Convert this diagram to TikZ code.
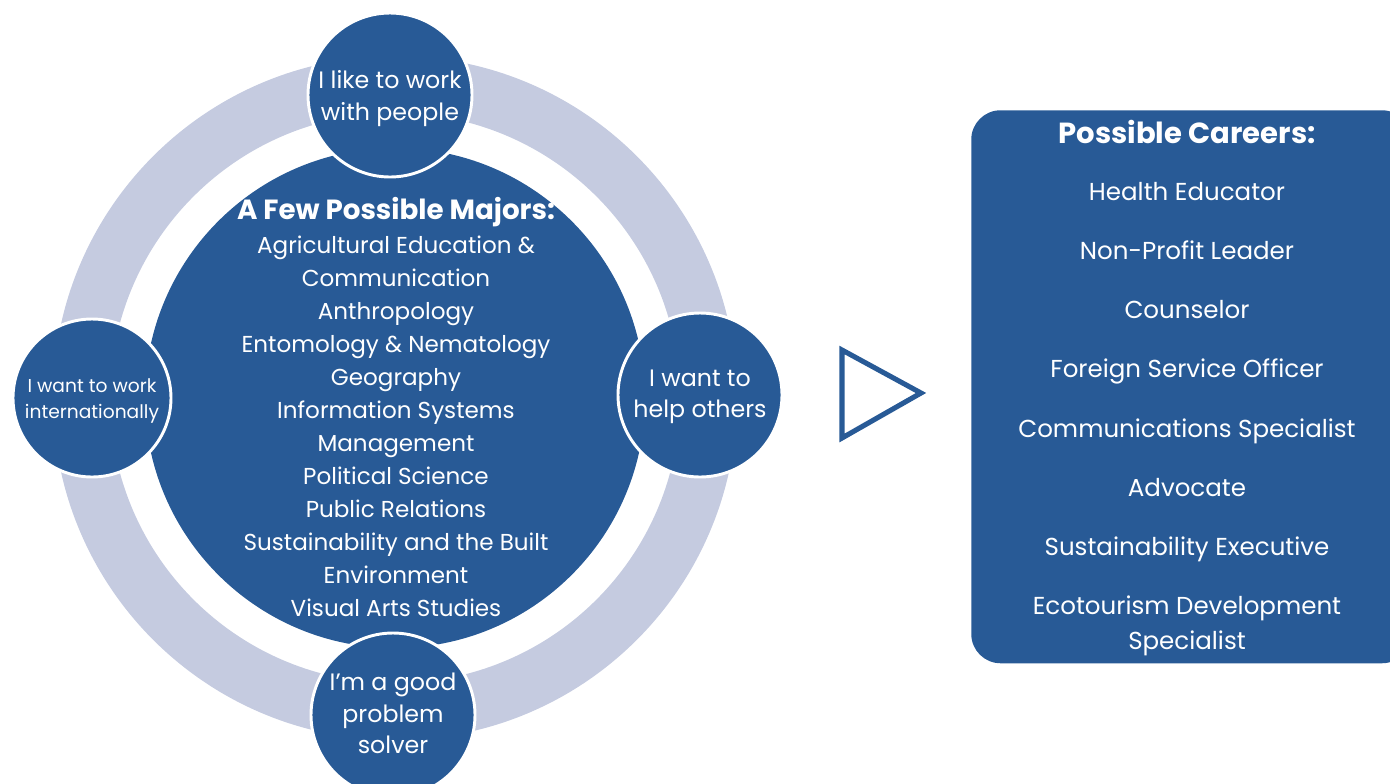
\documentclass[tikz,border=0pt]{standalone}
\usepackage{fontspec}
\setmainfont{Poppins}
\definecolor{dblue}{HTML}{285A96}
\definecolor{lring}{HTML}{C5CBE0}
\begin{document}
\begin{tikzpicture}[x=0.75pt,y=-0.75pt,
  small/.style={circle,fill=dblue,draw=white,line width=2.2pt,minimum size=164*0.75pt,inner sep=0pt},
  txt/.style={text=white,align=center,inner sep=0pt},
  stxt/.style={txt,font=\fontsize{17.8}{23.5}\selectfont},
  career/.style={text=white,font=\fontsize{18.4}{20}\selectfont,inner sep=0pt,text height=2.2ex,text depth=0.6ex}]
\useasboundingbox (0,0) rectangle (1390,783);
\begin{scope}
\clip (0,0) rectangle (1390,783);
% ring
\fill[lring,even odd rule] (395,398) circle (342*0.75pt) (395,398) circle (285*0.75pt);
% central circle
\node[circle,fill=dblue,minimum size=500*0.75pt,inner sep=0pt] (center) at (395,398) {};
% small circles
\node[small] (top) at (390,95) {};
\node[small] (right) at (700,395) {};
\node[small,minimum size=158*0.75pt] (left) at (92,398) {};
\node[small] (bottom) at (393,715) {};
\node[stxt] (topt) at (390,98.5) {I like to work\\with people};
\node[stxt] (rightt) at (700,397) {I want to\\help others};
\node[txt,font=\fontsize{14}{19.5}\selectfont] (leftt) at (92,400.5) {I want to work\\internationally};
\node[stxt] (bottomt) at (393,713.5) {I’m a good\\problem\\solver};
% central text
\node[txt,font=\bfseries\fontsize{20.8}{22}\selectfont] (majt) at (396,212) {A Few Possible Majors:};
\node[txt,anchor=north,font=\fontsize{17.3}{24.75}\selectfont] (majl) at (396,236) {Agricultural Education \&\\Communication\\Anthropology\\Entomology \& Nematology\\Geography\\Information Systems\\Management\\Political Science\\Public Relations\\Sustainability and the Built\\Environment\\Visual Arts Studies};
% triangle
\coordinate (t1) at (842,350);
\coordinate (t2) at (842,438);
\coordinate (t3) at (921,393);
\draw[dblue,line width=3.8pt,line join=miter] (t1) -- (t3) -- (t2) -- cycle;
% careers box
\node[fill=dblue,rounded corners=22pt,minimum width=440*0.75pt,minimum height=553*0.75pt,anchor=north west,inner sep=0pt] (box) at (971,110) {};
\node[txt,font=\bfseries\fontsize{21.8}{22}\selectfont] (ct) at (1187,132) {Possible Careers:};
\node[career] (c1) at (1187,195) {Health Educator};
\node[career] (c2) at (1187,254) {Non-Profit Leader};
\node[career] (c3) at (1187,313) {Counselor};
\node[career] (c4) at (1187,372) {Foreign Service Officer};
\node[career] (c5) at (1187,432) {Communications Specialist};
\node[career] (c6) at (1187,491) {Advocate};
\node[career] (c7) at (1187,550) {Sustainability Executive};
\node[career,align=center,font=\fontsize{18.4}{26.25}\selectfont,text height=,text depth=] (c8) at (1187,626) {Ecotourism Development\\Specialist};
\end{scope}
\end{tikzpicture}
\end{document}
